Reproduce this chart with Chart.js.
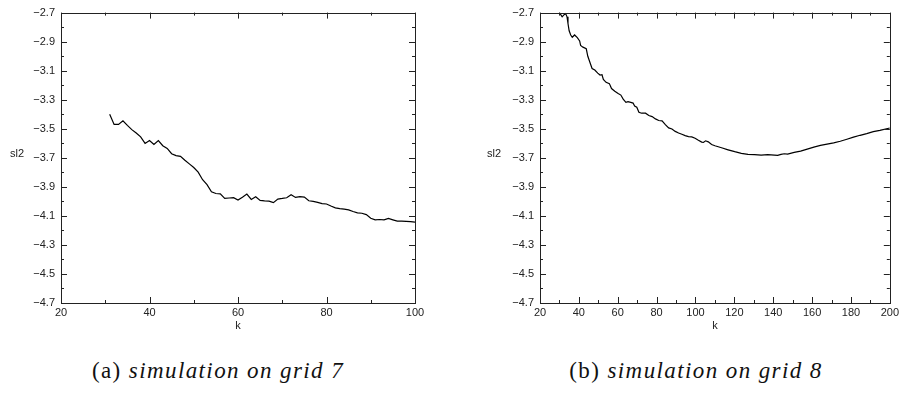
<!DOCTYPE html>
<html>
<head>
<meta charset="utf-8">
<script src="https://cdn.jsdelivr.net/npm/chart.js@4/dist/chart.umd.min.js"></script>
<style>
  body { margin: 0; background: #fff; width: 902px; height: 396px; position: relative; overflow: hidden; }
  canvas { position: absolute; top: 0; }
  #chartA { left: 0; }
  #chartB { left: 450px; }
  .ylab { position: absolute; top: 147px; font: 11px "Liberation Sans", Arial, sans-serif; color: #222; }
  .caption { position: absolute; top: 358px; font: 23px "Liberation Serif", "DejaVu Serif", serif; letter-spacing: 1.4px; color: #111; white-space: nowrap; transform: translateX(-50%); }
  .caption i { font-style: italic; }
</style>
</head>
<body>
<canvas id="chartA" width="450" height="340"></canvas>
<canvas id="chartB" width="452" height="340"></canvas>
<div class="ylab" style="left:10px">sl2</div>
<div class="ylab" style="left:487px">sl2</div>
<div class="caption" style="left:218px">(a) <i>simulation on grid 7</i></div>
<div class="caption" style="left:696px">(b) <i>simulation on grid 8</i></div>
<script>
// (a) grid 7
const kA = [31, 32, 33, 34, 35, 36, 37, 38, 39, 40, 41, 42, 43, 44, 45, 46, 47, 48, 49, 50,
            51, 52, 53, 54, 55, 56, 57, 58, 59, 60, 61, 62, 63, 64, 65, 66, 67, 68, 69, 70,
            71, 72, 73, 74, 75, 76, 77, 78, 79, 80, 81, 82, 83, 84, 85, 86, 87, 88, 89, 90,
            91, 92, 93, 94, 95, 96, 97, 98, 99, 100];
const sl2A = [-3.40, -3.47, -3.47, -3.445, -3.477, -3.506, -3.529, -3.556, -3.601, -3.581,
              -3.608, -3.581, -3.617, -3.635, -3.672, -3.685, -3.69, -3.717, -3.742, -3.767,
              -3.799, -3.851, -3.885, -3.934, -3.946, -3.948, -3.98, -3.977, -3.975, -3.991,
              -3.971, -3.95, -3.987, -3.968, -3.993, -3.996, -3.998, -4.009, -3.984, -3.98,
              -3.975, -3.955, -3.973, -3.968, -3.971, -3.996, -4.0, -4.007, -4.016, -4.018,
              -4.032, -4.045, -4.05, -4.054, -4.059, -4.07, -4.079, -4.082, -4.091, -4.116,
              -4.127, -4.125, -4.127, -4.118, -4.127, -4.136, -4.136, -4.138, -4.14, -4.143];

// (b) grid 8
const kB = [30, 31.4, 32.4, 33.2, 33.9, 34.4, 35, 35.8, 36.6, 37.8, 39.2, 40.4, 40.9, 42.1, 43.8,
            44.6, 45.8, 46.8, 48.2, 49.7, 50.9, 51.9, 52.6, 54, 55.7, 56.8, 58.5, 60.2, 61.6, 62.8,
            64.2, 65.3, 66.7, 67.9, 68.7, 69.8, 70.9, 72.3, 74.3, 76, 77.7, 79.4, 81.1, 82.8, 84.5,
            86.2, 87.9, 89.6, 91.3, 93, 94.7, 96.4, 98.1, 99.8, 101.5, 103.2, 104.1, 105.2, 106.6, 108.3,
            110, 113.4, 116.8, 120.2, 123.6, 127, 130.4, 133.8, 137.2, 140.6, 142.3, 144, 145.7, 147.4,
            150.8, 154.1, 157.5, 160.9, 164.3, 167.7, 171.1, 174.5, 177.9, 181.3, 184.7, 188.1, 191.5,
            194.9, 200];
const sl2B = [-2.70, -2.729, -2.714, -2.707, -2.729, -2.775, -2.825, -2.854, -2.87, -2.854, -2.872, -2.895, -2.926, -2.938, -2.949,
              -3.001, -3.047, -3.085, -3.096, -3.117, -3.13, -3.128, -3.16, -3.18, -3.189, -3.223, -3.241, -3.257, -3.268, -3.296,
              -3.318, -3.313, -3.318, -3.323, -3.343, -3.352, -3.386, -3.393, -3.393, -3.409, -3.416, -3.432, -3.443, -3.446, -3.472,
              -3.494, -3.502, -3.518, -3.529, -3.538, -3.547, -3.554, -3.556, -3.565, -3.579, -3.592, -3.594, -3.583, -3.59, -3.608,
              -3.617, -3.631, -3.645, -3.658, -3.669, -3.676, -3.678, -3.681, -3.678, -3.681, -3.683, -3.676, -3.672, -3.674,
              -3.663, -3.654, -3.64, -3.626, -3.615, -3.606, -3.597, -3.586, -3.572, -3.558, -3.545, -3.534, -3.52,
              -3.511, -3.495];

const yTicks = [-4.7, -4.5, -4.3, -4.1, -3.9, -3.7, -3.5, -3.3, -3.1, -2.9, -2.7];
const xTicksA = [20, 40, 60, 80, 100];
const xTicksB = [20, 40, 60, 80, 100, 120, 140, 160, 180, 200];

const tickFont = { family: "'Liberation Sans', Arial, sans-serif", size: 11 };
const textColor = '#222';

// gnuplot style frame with inward major/minor ticks on all four sides
const innerTicks = {
    id: 'innerTicks',
    afterDraw(chart, args, opts) {
        const { ctx, chartArea: a, scales: { x, y } } = chart;
        ctx.save();
        ctx.strokeStyle = '#222';
        ctx.lineWidth = 1;
        ctx.beginPath();
        const nx = Math.round((x.max - x.min) / opts.xMinor);
        for (let i = 0; i <= nx; i++) {
            const px = Math.round(x.getPixelForValue(x.min + i * opts.xMinor)) + 0.5;
            const len = i % 2 === 0 ? 6 : 3;
            ctx.moveTo(px, a.bottom); ctx.lineTo(px, a.bottom - len);
            ctx.moveTo(px, a.top); ctx.lineTo(px, a.top + len);
        }
        const ny = Math.round((y.max - y.min) / 0.1);
        for (let i = 0; i <= ny; i++) {
            const py = Math.round(y.getPixelForValue(y.min + i * 0.1)) + 0.5;
            const len = i % 2 === 0 ? 6 : 3;
            ctx.moveTo(a.left, py); ctx.lineTo(a.left + len, py);
            ctx.moveTo(a.right, py); ctx.lineTo(a.right - len, py);
        }
        ctx.stroke();
        ctx.strokeRect(Math.round(a.left) + 0.5, Math.round(a.top) + 0.5,
                       Math.round(a.width), Math.round(a.height));
        ctx.restore();
    }
};

function makeChart(id, ks, vals, xMax, xTicks, yWidth, padRight) {
    return new Chart(document.getElementById(id), {
        type: 'line',
        data: {
            datasets: [{
                data: ks.map((k, i) => ({ x: k, y: vals[i] })),
                borderColor: '#000',
                borderWidth: 1.2,
                pointRadius: 0,
                tension: 0,
                fill: false
            }]
        },
        options: {
            responsive: false,
            animation: false,
            layout: { padding: { left: 0, right: padRight, top: 9, bottom: 0 } },
            plugins: {
                legend: { display: false },
                tooltip: { enabled: false },
                innerTicks: { xMinor: 10 }
            },
            scales: {
                x: {
                    type: 'linear',
                    min: 20,
                    max: xMax,
                    afterBuildTicks: s => { s.ticks = xTicks.map(v => ({ value: v })); },
                    afterFit: s => { s.height = 37; },
                    grid: { display: false, drawTicks: false },
                    border: { display: false },
                    ticks: { font: tickFont, color: textColor, padding: 3, maxRotation: 0 },
                    title: { display: true, text: 'k', font: tickFont, color: textColor, padding: { top: 0, bottom: 7 } }
                },
                y: {
                    type: 'linear',
                    min: -4.7,
                    max: -2.7,
                    afterBuildTicks: s => { s.ticks = yTicks.map(v => ({ value: v })); },
                    afterFit: s => { s.width = yWidth; },
                    grid: { display: false, drawTicks: false },
                    border: { display: false },
                    ticks: {
                        font: tickFont, color: textColor, padding: 6,
                        callback: v => (v < 0 ? '\u2212' : '') + Math.abs(v).toFixed(1)
                    }
                }
            }
        },
        plugins: [innerTicks]
    });
}

makeChart('chartA', kA, sl2A, 100, xTicksA, 61, 35);
makeChart('chartB', kB, sl2B, 200, xTicksB, 90, 9);
</script>
</body>
</html>
